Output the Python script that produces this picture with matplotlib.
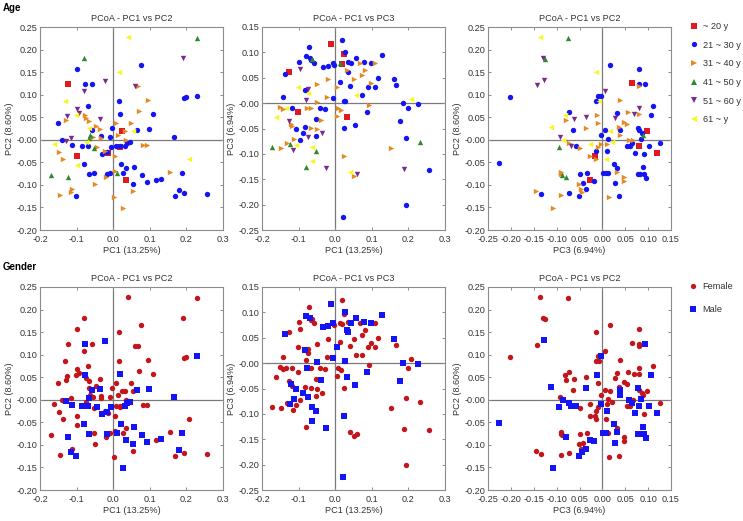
"""
PCoA scatter panels: samples coloured by age group (top row) and by gender
(bottom row), for the PC1/PC2, PC1/PC3 and PC3/PC2 projections.
"""

import numpy as np
import matplotlib
matplotlib.use("Agg")
import matplotlib.pyplot as plt
from matplotlib.lines import Line2D

plt.rcParams["font.family"] = ["Liberation Sans", "DejaVu Sans"]

# ---------------------------------------------------------------- data
AGE_LABELS = ["~ 20 y", "21 ~ 30 y", "31 ~ 40 y", "41 ~ 50 y", "51 ~ 60 y", "61 ~ y"]
SEX_LABELS = ["Female", "Male"]

# projection 1: PC1 (x) vs PC2 (y)
x1 = [0.040, 0.230, -0.080, 0.190, 0.075, -0.099, 0.016, -0.022, -0.123, -0.077,
      -0.058, 0.060, 0.067, -0.079, 0.194, 0.199, 0.228, 0.094, -0.132, 0.016,
      -0.068, -0.098, -0.094, 0.071, 0.018, 0.109, -0.076, -0.075, -0.125, -0.130,
      -0.102, -0.036, -0.066, -0.150, 0.048, -0.047, -0.036, -0.066, -0.058, -0.003,
      0.009, 0.023, 0.055, 0.065, 0.097, 0.014, 0.032, 0.165, -0.140, -0.128,
      -0.115, -0.064, -0.066, -0.075, -0.055, -0.034, -0.032, -0.009, -0.112, -0.086,
      -0.069, -0.052, -0.045, -0.031, -0.016, -0.005, 0.009, 0.018, 0.032, 0.038,
      0.045, 0.018, 0.035, 0.082, 0.091, -0.162, -0.147, -0.099, -0.014, -0.023,
      0.005, -0.100, -0.080, -0.136, 0.020, 0.036, 0.058, 0.207, -0.171, -0.123,
      -0.066, -0.052, -0.018, -0.009, 0.005, 0.011, 0.026, -0.020, 0.080, 0.055,
      0.091, 0.034, 0.118, 0.130, 0.155, 0.188, -0.050, 0.055, -0.112, -0.116,
      -0.145, -0.103, 0.180, 0.168, 0.193, 0.257, 0.002, 0.026]
y1 = [0.227, 0.226, 0.181, 0.181, 0.166, 0.156, 0.150, 0.130, 0.124, 0.123,
      0.124, 0.120, 0.119, 0.108, 0.093, 0.094, 0.096, 0.088, 0.086, 0.087,
      0.074, 0.069, 0.059, 0.063, 0.058, 0.058, 0.055, 0.049, 0.052, 0.044,
      0.055, 0.045, 0.041, 0.037, 0.038, 0.030, 0.024, 0.027, 0.022, 0.027,
      0.037, 0.019, 0.019, 0.022, 0.025, 0.011, 0.019, 0.007, 0.000, -0.003,
      0.004, 0.010, 0.003, -0.004, 0.006, 0.004, 0.008, 0.006, -0.011, -0.013,
      -0.013, -0.018, -0.016, -0.031, -0.027, -0.015, -0.014, -0.014, -0.014, -0.008,
      -0.006, -0.015, -0.001, -0.012, -0.012, -0.009, -0.027, -0.035, -0.030, -0.025,
      -0.036, -0.055, -0.053, -0.043, -0.053, -0.062, -0.061, -0.043, -0.077, -0.083,
      -0.076, -0.074, -0.075, -0.073, -0.070, -0.074, -0.074, -0.083, -0.077, -0.097,
      -0.093, -0.090, -0.090, -0.086, -0.072, -0.073, -0.097, -0.113, -0.109, -0.115,
      -0.123, -0.125, -0.111, -0.125, -0.117, -0.120, -0.127, -0.152]
age1 = [5, 3, 3, 4, 1, 1, 5, 4, 0, 1,
        1, 4, 2, 4, 1, 1, 1, 2, 5, 1,
        1, 4, 4, 2, 1, 1, 2, 2, 4, 2,
        5, 4, 2, 1, 2, 2, 2, 5, 1, 1,
        2, 0, 5, 1, 1, 2, 2, 1, 1, 4,
        4, 3, 3, 5, 2, 2, 1, 1, 1, 1,
        1, 3, 2, 1, 1, 1, 1, 1, 1, 1,
        1, 0, 2, 2, 2, 5, 2, 0, 0, 2,
        2, 5, 1, 2, 1, 1, 1, 5, 3, 3,
        1, 1, 1, 1, 2, 3, 1, 2, 1, 1,
        1, 0, 1, 1, 2, 1, 2, 2, 2, 2,
        2, 1, 1, 1, 1, 1, 2, 2]
male1 = [0, 0, 0, 0, 0, 0, 0, 1, 0, 1,
         0, 0, 0, 0, 0, 0, 1, 0, 0, 0,
         0, 0, 0, 0, 1, 0, 1, 0, 0, 0,
         0, 0, 0, 0, 0, 0, 1, 0, 1, 0,
         0, 0, 0, 1, 1, 0, 0, 1, 0, 1,
         0, 0, 1, 0, 0, 0, 0, 0, 1, 1,
         1, 0, 1, 1, 1, 1, 0, 0, 1, 1,
         1, 0, 0, 0, 0, 0, 0, 0, 0, 0,
         0, 0, 1, 0, 1, 0, 1, 0, 0, 1,
         1, 0, 1, 0, 0, 1, 0, 0, 1, 1,
         1, 1, 0, 1, 0, 1, 0, 0, 0, 1,
         0, 1, 1, 0, 0, 0, 0, 1]

# projection 2: PC1 (x) vs PC3 (y)
x2 = [-0.012, 0.018, 0.028, 0.023, -0.071, 0.129, -0.081, -0.099, -0.069, -0.066,
      -0.063, -0.057, 0.018, 0.014, -0.034, -0.020, -0.006, -0.002, 0.035, 0.044,
      0.057, 0.069, 0.078, 0.097, 0.110, -0.095, -0.126, -0.136, 0.032, 0.036,
      0.081, 0.012, -0.020, -0.049, -0.101, -0.075, -0.083, -0.075, 0.074, 0.118,
      0.051, 0.040, 0.005, 0.099, 0.089, 0.110, 0.074, 0.058, 0.160, 0.165,
      0.208, 0.184, 0.198, 0.227, -0.142, -0.023, -0.006, -0.081, -0.049, 0.023,
      0.026, -0.150, -0.135, -0.143, -0.118, -0.101, -0.078, -0.067, -0.041, -0.029,
      0.009, 0.017, 0.087, 0.092, -0.163, 0.032, 0.006, -0.052, -0.040, -0.126,
      -0.121, -0.117, -0.106, 0.023, 0.053, 0.177, -0.083, -0.067, -0.051, -0.087,
      -0.035, -0.096, -0.075, -0.113, -0.052, -0.131, -0.124, -0.115, -0.147, -0.172,
      -0.106, -0.063, -0.052, 0.193, 0.153, 0.233, -0.064, -0.080, -0.025, 0.023,
      0.188, 0.256, 0.041, 0.052, 0.060, 0.193, 0.021]
y2 = [0.116, 0.124, 0.100, 0.096, 0.110, 0.094, 0.092, 0.081, 0.089, 0.084,
      0.086, 0.080, 0.077, 0.080, 0.071, 0.074, 0.079, 0.076, 0.081, 0.080,
      0.088, 0.079, 0.082, 0.080, 0.079, 0.068, 0.062, 0.057, 0.066, 0.061,
      0.066, 0.041, 0.047, 0.037, 0.031, 0.028, 0.025, 0.020, 0.056, 0.050,
      0.047, 0.033, 0.032, 0.039, 0.031, 0.032, 0.016, 0.016, 0.048, 0.035,
      0.009, 0.000, -0.009, -0.002, 0.012, 0.012, 0.011, 0.006, 0.003, 0.005,
      0.005, -0.007, -0.010, -0.011, -0.010, -0.017, -0.010, -0.010, -0.010, -0.012,
      -0.010, -0.014, -0.018, -0.004, -0.027, -0.028, -0.026, -0.031, -0.033, -0.035,
      -0.041, -0.046, -0.051, -0.049, -0.043, -0.035, -0.047, -0.049, -0.051, -0.059,
      -0.059, -0.073, -0.066, -0.070, -0.064, -0.079, -0.081, -0.092, -0.089, -0.087,
      -0.083, -0.086, -0.094, -0.068, -0.089, -0.077, -0.115, -0.125, -0.128, -0.105,
      -0.129, -0.132, -0.136, -0.144, -0.140, -0.201, -0.225]
age2 = [0, 1, 1, 0, 1, 1, 1, 1, 1, 1,
        3, 1, 0, 3, 1, 1, 1, 1, 1, 1,
        1, 2, 1, 1, 2, 4, 0, 1, 2, 1,
        2, 1, 2, 2, 5, 4, 1, 5, 2, 1,
        2, 1, 2, 2, 1, 1, 1, 5, 1, 1,
        5, 1, 1, 1, 1, 2, 1, 4, 2, 1,
        1, 2, 5, 2, 1, 0, 2, 2, 1, 1,
        2, 2, 1, 2, 5, 0, 2, 1, 2, 4,
        2, 2, 1, 1, 1, 1, 1, 2, 2, 1,
        4, 1, 4, 2, 1, 2, 3, 4, 2, 3,
        5, 5, 3, 1, 2, 3, 5, 3, 4, 2,
        4, 1, 5, 2, 4, 1, 1]
male2 = [1, 0, 1, 0, 0, 1, 1, 0, 1, 0,
         0, 0, 0, 0, 1, 1, 1, 0, 0, 1,
         1, 0, 1, 1, 0, 0, 0, 1, 1, 1,
         0, 0, 0, 0, 0, 0, 1, 0, 0, 0,
         0, 0, 1, 0, 0, 0, 0, 0, 1, 0,
         0, 1, 0, 1, 0, 0, 1, 0, 1, 0,
         1, 0, 0, 0, 0, 0, 1, 0, 0, 0,
         0, 0, 1, 0, 0, 1, 0, 0, 1, 0,
         1, 0, 1, 0, 1, 1, 0, 0, 0, 1,
         0, 0, 1, 1, 0, 0, 1, 0, 0, 0,
         0, 1, 1, 0, 0, 0, 1, 0, 1, 1,
         0, 0, 0, 0, 0, 0, 1]

# projection 3: PC3 (x) vs PC2 (y)
x3 = [-0.136, -0.075, -0.130, -0.125, 0.016, -0.015, 0.080, -0.128, -0.142, 0.064,
      0.080, 0.094, 0.080, -0.201, -0.002, -0.009, 0.005, -0.015, -0.007, 0.038,
      0.111, -0.073, 0.055, 0.080, 0.069, 0.106, 0.080, 0.031, -0.082, -0.079,
      -0.061, -0.012, -0.035, 0.027, -0.010, 0.047, 0.054, -0.064, -0.113, -0.036,
      0.036, 0.005, -0.004, 0.016, 0.038, 0.039, 0.077, 0.080, 0.087, 0.098,
      -0.093, -0.085, -0.095, -0.072, -0.068, -0.057, -0.050, -0.028, -0.013, -0.009,
      -0.002, 0.012, 0.022, 0.011, 0.011, 0.053, 0.061, 0.058, 0.066, 0.064,
      0.080, 0.085, 0.089, 0.101, 0.126, 0.120, 0.091, 0.071, -0.017, -0.028,
      -0.013, 0.009, -0.225, 0.026, 0.033, 0.031, 0.001, 0.007, 0.012, 0.047,
      0.047, -0.050, -0.033, -0.091, -0.090, -0.088, -0.079, -0.028, -0.018, -0.052,
      -0.042, -0.035, -0.046, -0.044, 0.027, 0.078, 0.082, 0.091, 0.089, 0.096,
      -0.073, -0.051, -0.134, -0.146, -0.091, 0.036, 0.015, -0.107]
y3 = [0.228, 0.226, 0.182, 0.180, 0.166, 0.151, 0.157, 0.132, 0.121, 0.125,
      0.124, 0.124, 0.120, 0.094, 0.098, 0.096, 0.109, 0.087, 0.087, 0.088,
      0.074, 0.062, 0.062, 0.070, 0.057, 0.056, 0.057, 0.059, 0.056, 0.044,
      0.045, 0.056, 0.051, 0.049, 0.038, 0.039, 0.035, 0.021, 0.028, 0.026,
      0.028, 0.021, 0.011, 0.019, 0.022, 0.011, 0.026, 0.021, 0.015, 0.019,
      0.006, 0.000, -0.016, -0.007, -0.014, -0.013, -0.018, -0.009, -0.024, -0.016,
      -0.010, 0.001, -0.004, -0.025, -0.010, -0.014, -0.014, -0.001, -0.001, -0.007,
      -0.014, 0.002, 0.010, -0.014, -0.007, -0.029, -0.031, -0.029, -0.036, -0.036,
      -0.042, -0.043, -0.051, -0.053, -0.063, -0.071, -0.074, -0.074, -0.074, -0.082,
      -0.092, -0.075, -0.074, -0.071, -0.075, -0.077, -0.082, -0.090, -0.092, -0.097,
      -0.096, -0.110, -0.110, -0.115, -0.095, -0.075, -0.075, -0.075, -0.060, -0.085,
      -0.117, -0.124, -0.121, -0.114, -0.123, -0.125, -0.126, -0.152]
age3 = [5, 3, 4, 3, 1, 5, 1, 4, 4, 0,
        1, 1, 2, 1, 1, 1, 4, 1, 5, 2,
        1, 1, 2, 4, 4, 1, 2, 1, 5, 2,
        4, 2, 4, 4, 2, 2, 2, 1, 5, 2,
        2, 1, 1, 5, 1, 2, 1, 1, 1, 0,
        4, 5, 3, 2, 4, 1, 2, 5, 1, 2,
        2, 1, 5, 1, 2, 1, 1, 2, 2, 1,
        0, 1, 3, 1, 1, 0, 1, 1, 0, 2,
        2, 5, 1, 1, 1, 2, 1, 1, 1, 2,
        2, 1, 1, 2, 2, 3, 3, 0, 1, 2,
        1, 1, 2, 2, 1, 1, 1, 1, 1, 1,
        1, 1, 1, 2, 2, 1, 2, 2]
male3 = [0, 0, 0, 0, 0, 0, 0, 1, 0, 0,
         0, 1, 0, 0, 1, 0, 0, 0, 0, 0,
         0, 0, 0, 0, 0, 1, 0, 0, 0, 0,
         0, 1, 0, 0, 0, 0, 0, 0, 1, 1,
         0, 0, 0, 0, 1, 1, 1, 0, 0, 0,
         0, 1, 1, 1, 1, 1, 0, 0, 0, 0,
         1, 0, 0, 1, 0, 0, 0, 1, 0, 1,
         1, 1, 0, 1, 0, 1, 0, 1, 0, 0,
         0, 0, 1, 1, 0, 1, 1, 1, 0, 0,
         0, 0, 0, 0, 0, 0, 1, 1, 1, 0,
         0, 1, 0, 1, 1, 1, 1, 1, 1, 1,
         0, 1, 0, 0, 0, 0, 0, 1]

# ---------------------------------------------------------------- styles
AGE_MARKERS = ["s", "o", ">", "^", "v", "<"]
AGE_COLORS = ["#e01b1f", "#1414f5", "#e58a22", "#2f8a2c", "#7a2a8c", "#f8f81a"]
SEX_MARKERS = ["o", "s"]
SEX_COLORS = ["#c3161b", "#1414f5"]

FIG_W, FIG_H = 743, 521
GREY = "#8c8c8c"
FS = 6.6
MS = 15


def px_axes(fig, left, top, width, height):
    """Add axes given in pixel coordinates measured from the top-left."""
    return fig.add_axes([left / FIG_W, 1 - (top + height) / FIG_H,
                         width / FIG_W, height / FIG_H])


def style_axes(ax, xlim, ylim, xticks, xticklabels, yticks, title, xlabel, ylabel):
    ax.set_xlim(xlim)
    ax.set_ylim(ylim)
    ax.set_xticks(xticks)
    ax.set_xticklabels(xticklabels)
    ax.set_yticks(yticks)
    ax.set_yticklabels([f"{v:.2f}" for v in yticks])
    ax.axhline(0, color="#7a7a7a", lw=0.9, zorder=1)
    ax.axvline(0, color="#7a7a7a", lw=0.9, zorder=1)
    ax.tick_params(direction="in", length=2.5, width=0.7, color=GREY,
                   labelsize=FS, labelcolor="#333333", pad=2,
                   top=True, right=True)
    ax.tick_params(axis="x", pad=3.5)
    for sp in ax.spines.values():
        sp.set_color(GREY)
        sp.set_linewidth(0.8)
    ax.set_title(title, fontsize=FS, color="#333333", pad=4)
    ax.set_xlabel(xlabel, fontsize=FS, color="#333333", labelpad=1.5)
    ax.set_ylabel(ylabel, fontsize=FS, color="#333333", labelpad=2)


def scatter_age(ax, x, y, age):
    x, y, age = np.asarray(x), np.asarray(y), np.asarray(age)
    for k in range(len(AGE_LABELS)):
        m = age == k
        ax.scatter(x[m], y[m], marker=AGE_MARKERS[k], c=AGE_COLORS[k],
                   s=MS, linewidths=0, zorder=3)


def scatter_sex(ax, x, y, male):
    x, y, male = np.asarray(x), np.asarray(y), np.asarray(male)
    for k in range(2):
        m = male == k
        ax.scatter(x[m], y[m], marker=SEX_MARKERS[k], c=SEX_COLORS[k],
                   s=MS, linewidths=0, zorder=3)


fig = plt.figure(figsize=(FIG_W / 100, FIG_H / 100), dpi=100)

pc_x = np.round(np.arange(-0.2, 0.31, 0.1), 2)
pc_x_labels = [f"{v:.1f}" for v in pc_x]
pc3_x = np.round(np.arange(-0.25, 0.151, 0.05), 2)
# the source figure prints the -0.05 tick without its minus sign
pc3_x_labels = ["-0.25", "-0.20", "-0.15", "-0.10", "0.05", "0.00", "0.05", "0.10", "0.15"]
y_pc2 = np.round(np.arange(-0.20, 0.251, 0.05), 2)
y_pc3 = np.round(np.arange(-0.25, 0.151, 0.05), 2)

projections = [
    (x1, y1, age1, male1, (-0.2, 0.3), (-0.20, 0.25), pc_x, pc_x_labels, y_pc2,
     "PCoA - PC1 vs PC2", "PC1 (13.25%)", "PC2 (8.60%)", 40),
    (x2, y2, age2, male2, (-0.2, 0.3), (-0.25, 0.15), pc_x, pc_x_labels, y_pc3,
     "PCoA - PC1 vs PC3", "PC1 (13.25%)", "PC3 (6.94%)", 262),
    (x3, y3, age3, male3, (-0.25, 0.15), (-0.20, 0.25), pc3_x, pc3_x_labels, y_pc2,
     "PCoA - PC1 vs PC2", "PC3 (6.94%)", "PC2 (8.60%)", 488),
]

for (x, y, age, male, xlim, ylim, xt, xtl, yt, title, xl, yl, left) in projections:
    ax_top = px_axes(fig, left, 27, 183, 203)
    scatter_age(ax_top, x, y, age)
    style_axes(ax_top, xlim, ylim, xt, xtl, yt, title, xl, yl)

    ax_bot = px_axes(fig, left, 287, 183, 203)
    scatter_sex(ax_bot, x, y, male)
    style_axes(ax_bot, xlim, ylim, xt, xtl, yt, title, xl, yl)

# row headings
fig.text(3 / FIG_W, 1 - 8 / FIG_H, "Age", fontsize=7, fontweight="bold",
         va="center", ha="left")
fig.text(3 / FIG_W, 1 - 267 / FIG_H, "Gender", fontsize=7, fontweight="bold",
         va="center", ha="left")

# legends
age_handles = [Line2D([], [], ls="none", marker=AGE_MARKERS[k], color=AGE_COLORS[k],
                      markersize=3.8, markeredgewidth=0)
               for k in range(len(AGE_LABELS))]
fig.legend(age_handles, AGE_LABELS, loc="upper left",
           bbox_to_anchor=(689 / FIG_W, 1 - 22 / FIG_H), frameon=False,
           fontsize=FS, handlelength=1.0, handletextpad=0.5, labelspacing=1.05,
           borderpad=0, borderaxespad=0, labelcolor="#333333")

sex_handles = [Line2D([], [], ls="none", marker=SEX_MARKERS[k], color=SEX_COLORS[k],
                      markersize=3.8, markeredgewidth=0)
               for k in range(2)]
fig.legend(sex_handles, SEX_LABELS, loc="upper left",
           bbox_to_anchor=(688 / FIG_W, 1 - 282 / FIG_H), frameon=False,
           fontsize=FS, handlelength=1.0, handletextpad=0.6, labelspacing=1.5,
           borderpad=0, borderaxespad=0, labelcolor="#333333")

fig.savefig("out.png", dpi=100)
plt.close(fig)
